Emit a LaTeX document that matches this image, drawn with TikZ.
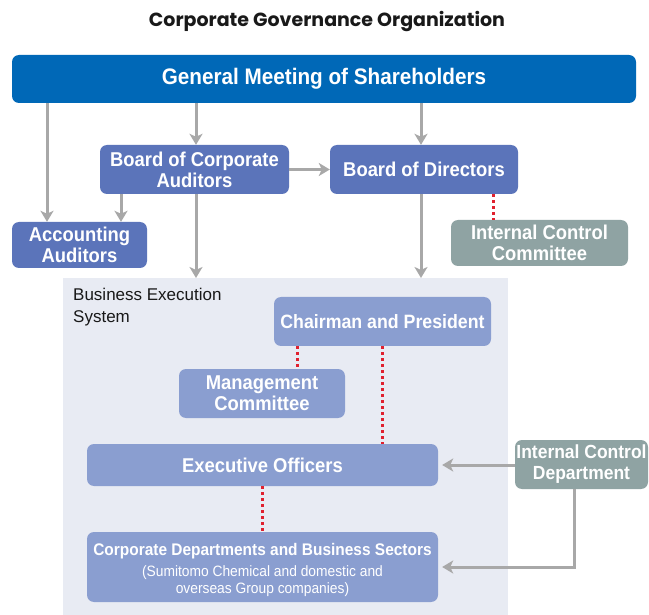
\documentclass[tikz,border=0pt]{standalone}
\usepackage{fontspec}
\setmainfont[FakeStretch=0.92]{Liberation Sans}
\newfontfamily\plainfont{Liberation Sans}
\newfontfamily\titlefont{Poppins Bold}
\usetikzlibrary{arrows.meta,calc}
\definecolor{gmblue}{HTML}{0068B7}
\definecolor{midblue}{HTML}{5B74BA}
\definecolor{lightblue}{HTML}{8A9ED0}
\definecolor{icgray}{HTML}{8FA3A3}
\definecolor{bgpanel}{HTML}{E8EBF3}
\definecolor{arrgray}{HTML}{A8A8A8}
\definecolor{dotred}{HTML}{E0202E}
\tikzset{
  box/.style={rounded corners=7pt, text=white, align=center, inner sep=0pt, draw=none},
  gmbox/.style={box, fill=gmblue, font=\bfseries\fontsize{22.5}{24}\selectfont},
  midbox/.style={box, fill=midblue, font=\bfseries\fontsize{20}{21}\selectfont},
  litbox/.style={box, fill=lightblue, font=\bfseries\fontsize{20}{21}\selectfont},
  icbox/.style={box, fill=icgray, font=\bfseries\fontsize{20}{21}\selectfont},
  arr/.style={draw=arrgray, line width=3pt, -{Stealth[length=11pt,width=13pt,inset=3pt]}},
  dotline/.style={draw=dotred, line width=3pt, dash pattern=on 3pt off 3pt},
}
\begin{document}
\begin{tikzpicture}[x=1pt,y=-1pt]
\useasboundingbox (0,0) rectangle (649,615);
\fill[white] (0,0) rectangle (649,615);
\node[font=\titlefont\fontsize{19}{22}\selectfont, text=black!90] (title) at (327,22) {Corporate Governance Organization};
% background panel
\fill[bgpanel] (63,278) rectangle (508,615);
\node[anchor=north west, align=left, font=\plainfont\fontsize{17}{22}\selectfont, inner sep=0pt, text=black!90] (bes) at (73,288) {Business Execution\\System};
% top nodes
\node[gmbox, minimum width=624pt, minimum height=48pt] (gm) at (324,79) {General Meeting of Shareholders};
\node[midbox, minimum width=189pt, minimum height=49pt] (bca) at (194.5,169.5) {Board of Corporate\\Auditors};
\node[midbox, minimum width=188pt, minimum height=49pt] (bod) at (424,169.5) {Board of Directors};
\node[midbox, minimum width=135pt, minimum height=46pt] (aa) at (79.5,245) {Accounting\\Auditors};
\node[icbox, minimum width=177pt, minimum height=46pt] (icc) at (539.5,243) {Internal Control\\Committee};
% execution
\node[litbox, minimum width=217pt, minimum height=49pt, font=\bfseries\fontsize{19.3}{21}\selectfont] (chair) at (382.5,321.5) {Chairman and President};
\node[litbox, minimum width=166pt, minimum height=49pt] (mgmt) at (262,393.5) {Management\\Committee};
\node[litbox, minimum width=351pt, minimum height=42pt] (exec) at (262.5,465) {Executive Officers};
\node[litbox, minimum width=351pt, minimum height=70pt] (corp) at (262.5,567) {};
\node[text=white, align=center, inner sep=0pt, font=\fontsize{15}{17}\selectfont] (corptext) at ($(corp.center)+(0,3)$) {{\bfseries\fontsize{16.8}{17}\selectfont Corporate Departments and Business Sectors}\\[4pt](Sumitomo Chemical and domestic and\\overseas Group companies)};
\node[icbox, minimum width=133pt, minimum height=49pt, font=\bfseries\fontsize{19}{21}\selectfont] (icd) at (581.5,464.5) {Internal Control\\Department};
\coordinate (panel) at (0,278);
% arrows
\draw[arr] (gm.south -| 47,0) -- (aa.north -| 47,0);
\draw[arr] (gm.south -| 196,0) -- (bca.north -| 196,0);
\draw[arr] (gm.south -| 421,0) -- (bod.north -| 421,0);
\draw[arr] (bca.east) -- (bod.west);
\draw[arr] (bca.south -| 121,0) -- (aa.north -| 121,0);
\draw[arr] (bca.south -| 196,0) -- (panel -| 196,0);
\draw[arr] (bod.south -| 421,0) -- (panel -| 421,0);
\draw[arr] (icd.west |- exec.east) -- ([xshift=4pt]exec.east);
\draw[arr] (icd.south -| 574,0) |- ([xshift=4pt]corp.east);
% dotted red
\draw[dotline] (bod.south -| 493,0) -- (icc.north -| 493,0);
\draw[dotline] (chair.south -| 297,0) -- (mgmt.north -| 297,0);
\draw[dotline] (chair.south -| 382,0) -- (exec.north -| 382,0);
\draw[dotline] (exec.south -| 262,0) -- (corp.north -| 262,0);
\end{tikzpicture}
\end{document}
